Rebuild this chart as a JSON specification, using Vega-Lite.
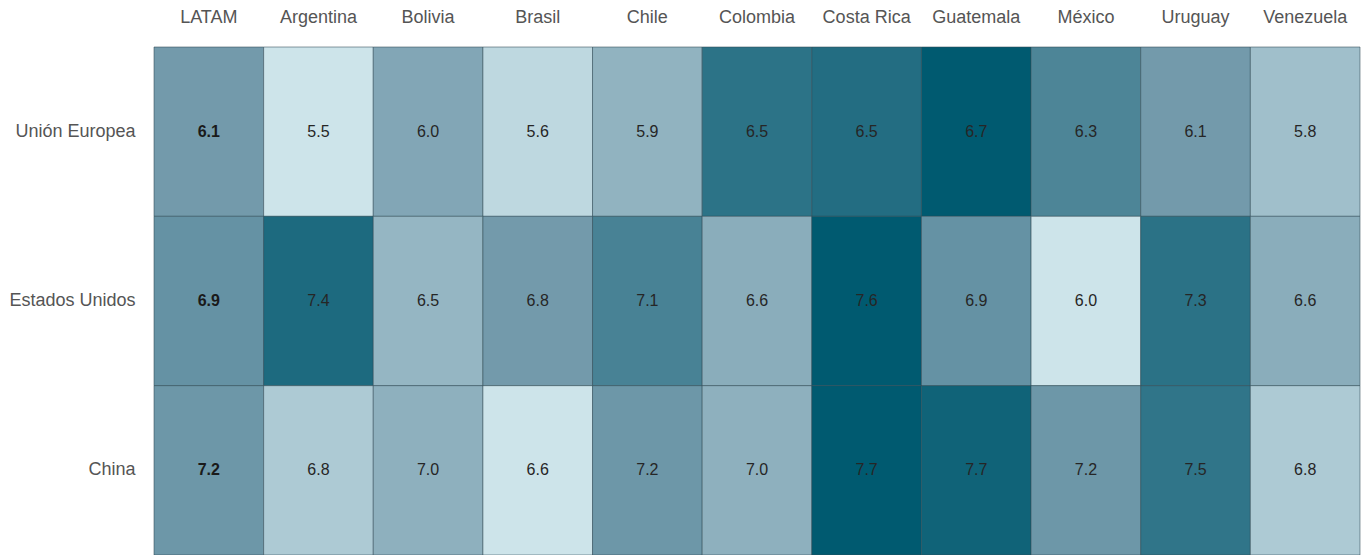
{
  "$schema": "https://vega.github.io/schema/vega-lite/v6.json",
  "width": 1206,
  "height": 510,
  "autosize": {"type": "none"},
  "padding": {"left": 154, "top": 47, "right": 8, "bottom": 0},
  "background": "white",
  "config": {"view": {"stroke": null}, "font": "Liberation Sans"},
  "data": {
    "values": [
      {"socio": "Unión Europea", "pais": "LATAM", "valor": 6.1},
      {"socio": "Unión Europea", "pais": "Argentina", "valor": 5.5},
      {"socio": "Unión Europea", "pais": "Bolivia", "valor": 6.0},
      {"socio": "Unión Europea", "pais": "Brasil", "valor": 5.6},
      {"socio": "Unión Europea", "pais": "Chile", "valor": 5.9},
      {"socio": "Unión Europea", "pais": "Colombia", "valor": 6.47},
      {"socio": "Unión Europea", "pais": "Costa Rica", "valor": 6.52},
      {"socio": "Unión Europea", "pais": "Guatemala", "valor": 6.7},
      {"socio": "Unión Europea", "pais": "México", "valor": 6.3},
      {"socio": "Unión Europea", "pais": "Uruguay", "valor": 6.1},
      {"socio": "Unión Europea", "pais": "Venezuela", "valor": 5.8},
      {"socio": "Estados Unidos", "pais": "LATAM", "valor": 6.9},
      {"socio": "Estados Unidos", "pais": "Argentina", "valor": 7.4},
      {"socio": "Estados Unidos", "pais": "Bolivia", "valor": 6.5},
      {"socio": "Estados Unidos", "pais": "Brasil", "valor": 6.8},
      {"socio": "Estados Unidos", "pais": "Chile", "valor": 7.1},
      {"socio": "Estados Unidos", "pais": "Colombia", "valor": 6.6},
      {"socio": "Estados Unidos", "pais": "Costa Rica", "valor": 7.6},
      {"socio": "Estados Unidos", "pais": "Guatemala", "valor": 6.9},
      {"socio": "Estados Unidos", "pais": "México", "valor": 6.0},
      {"socio": "Estados Unidos", "pais": "Uruguay", "valor": 7.3},
      {"socio": "Estados Unidos", "pais": "Venezuela", "valor": 6.6},
      {"socio": "China", "pais": "LATAM", "valor": 7.2},
      {"socio": "China", "pais": "Argentina", "valor": 6.8},
      {"socio": "China", "pais": "Bolivia", "valor": 7.0},
      {"socio": "China", "pais": "Brasil", "valor": 6.6},
      {"socio": "China", "pais": "Chile", "valor": 7.2},
      {"socio": "China", "pais": "Colombia", "valor": 7.0},
      {"socio": "China", "pais": "Costa Rica", "valor": 7.74},
      {"socio": "China", "pais": "Guatemala", "valor": 7.66},
      {"socio": "China", "pais": "México", "valor": 7.2},
      {"socio": "China", "pais": "Uruguay", "valor": 7.5},
      {"socio": "China", "pais": "Venezuela", "valor": 6.8}
    ]
  },
  "transform": [
    {"joinaggregate": [{"op": "min", "field": "valor", "as": "vmin"}, {"op": "max", "field": "valor", "as": "vmax"}], "groupby": ["socio"]},
    {"calculate": "(datum.valor - datum.vmin) / (datum.vmax - datum.vmin)", "as": "norm"}
  ],
  "encoding": {
    "x": {
      "field": "pais", "type": "nominal",
      "sort": ["LATAM", "Argentina", "Bolivia", "Brasil", "Chile", "Colombia", "Costa Rica", "Guatemala", "México", "Uruguay", "Venezuela"],
      "scale": {"paddingInner": 0, "paddingOuter": 0},
      "axis": {"orient": "top", "title": null, "domain": false, "ticks": false, "labelAngle": 0, "labelFontSize": 18, "labelColor": "#555555", "labelPadding": 21, "labelFont": "Liberation Sans"}
    },
    "y": {
      "field": "socio", "type": "nominal",
      "sort": ["Unión Europea", "Estados Unidos", "China"],
      "scale": {"paddingInner": 0, "paddingOuter": 0, "range": [0, 508]},
      "axis": {"title": null, "domain": false, "ticks": false, "labelFontSize": 18, "labelColor": "#555555", "labelPadding": 19, "labelFont": "Liberation Sans"}
    }
  },
  "layer": [
    {
      "mark": {"type": "rect", "stroke": "#2f4a55", "strokeOpacity": 0.55, "strokeWidth": 1},
      "encoding": {
        "color": {"field": "norm", "type": "quantitative", "scale": {"domain": [0, 0.5, 1], "range": ["#cde4ea", "#739aab", "#005a70"], "interpolate": "rgb"}, "legend": null}
      }
    },
    {
      "transform": [{"filter": "datum.pais !== 'LATAM'"}],
      "mark": {"type": "text", "fontSize": 16, "color": "#262626", "font": "Liberation Sans", "fontWeight": "normal"},
      "encoding": {
        "text": {"field": "valor", "type": "quantitative", "format": ".1f"}
      }
    },
    {
      "transform": [{"filter": "datum.pais === 'LATAM'"}],
      "mark": {"type": "text", "fontSize": 16, "color": "#1a1a1a", "font": "Liberation Sans", "fontWeight": "bold"},
      "encoding": {
        "text": {"field": "valor", "type": "quantitative", "format": ".1f"}
      }
    }
  ]
}
